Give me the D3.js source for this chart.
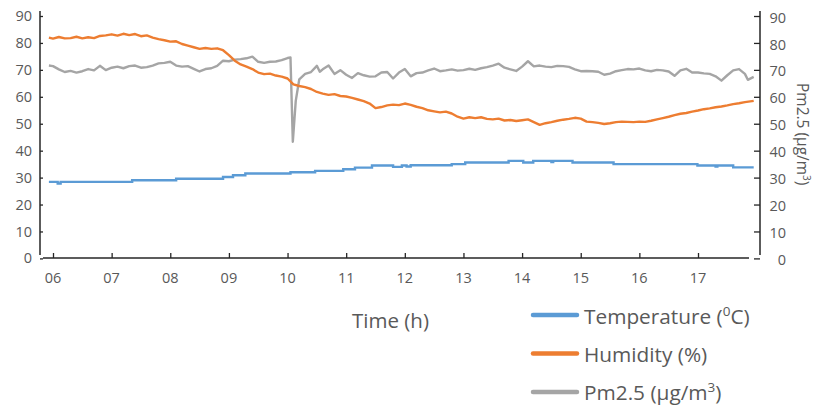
<!DOCTYPE html>
<html><head><meta charset="utf-8">
<script src="https://cdn.jsdelivr.net/npm/d3@7"></script>
<style>
html,body{margin:0;padding:0;background:#fff;}
svg{display:block;font-family:"Open Sans",sans-serif;}
</style></head>
<body>
<svg id="chart" width="814" height="407"></svg>
<script>
// ---- data ----
const hourTicks = [6,7,8,9,10,11,12,13,14,15,16,17];
const yTicks = [0,10,20,30,40,50,60,70,80,90];

const humidityTime = [5.93,6.0,6.1,6.2,6.3,6.4,6.5,6.6,6.7,6.8,6.9,7.0,7.1,7.2,7.3,7.4,7.5,7.6,7.7,7.8,7.9,8.0,8.1,8.2,8.3,8.4,8.5,8.6,8.7,8.8,8.9,9.0,9.1,9.2,9.3,9.4,9.5,9.6,9.7,9.8,9.9,10.0,10.1,10.2,10.3,10.4,10.5,10.6,10.7,10.8,10.9,11.0,11.1,11.2,11.3,11.4,11.5,11.6,11.7,11.8,11.9,12.0,12.1,12.2,12.3,12.4,12.5,12.6,12.7,12.8,12.9,13.0,13.1,13.2,13.3,13.4,13.5,13.6,13.7,13.8,13.9,14.0,14.1,14.2,14.3,14.4,14.5,14.6,14.7,14.8,14.9,15.0,15.1,15.2,15.3,15.4,15.5,15.6,15.7,15.8,15.9,16.0,16.1,16.2,16.3,16.4,16.5,16.6,16.7,16.8,16.9,17.0,17.1,17.2,17.3,17.4,17.5,17.6,17.7,17.8,17.95];
const humidity = [82.0,81.6,82.2,81.7,81.8,82.3,81.7,82.1,81.8,82.6,82.8,83.2,82.7,83.4,82.9,83.3,82.5,82.8,82.0,81.4,81.0,80.5,80.6,79.6,79.0,78.4,77.8,78.1,77.8,78.0,77.3,75.5,73.4,72.0,71.2,70.3,69.0,68.4,68.6,67.9,67.5,66.8,64.6,64.0,63.6,62.9,61.8,61.2,60.7,61.0,60.3,60.1,59.6,59.0,58.4,57.5,55.8,56.2,56.8,57.1,56.9,57.5,57.0,56.3,55.8,55.0,54.6,54.2,54.5,53.8,52.6,51.9,52.4,52.1,52.4,51.8,51.6,51.9,51.2,51.4,51.0,51.3,51.6,50.6,49.6,50.2,50.6,51.1,51.5,51.8,52.2,51.9,50.8,50.6,50.3,49.9,50.2,50.6,50.8,50.7,50.6,50.8,50.7,51.1,51.6,52.1,52.6,53.2,53.7,54.0,54.5,54.9,55.4,55.7,56.1,56.4,56.8,57.3,57.6,58.0,58.5];

const pmTime = [5.93,6.0,6.1,6.2,6.3,6.4,6.5,6.6,6.7,6.8,6.9,7.0,7.1,7.2,7.3,7.4,7.5,7.6,7.7,7.8,7.9,8.0,8.1,8.2,8.3,8.4,8.5,8.6,8.7,8.8,8.9,9.0,9.1,9.2,9.3,9.4,9.5,9.6,9.7,9.8,9.9,10.0,10.05,10.09,10.14,10.2,10.3,10.4,10.5,10.55,10.6,10.7,10.8,10.9,11.0,11.1,11.2,11.3,11.4,11.5,11.6,11.7,11.8,11.9,12.0,12.1,12.2,12.3,12.4,12.5,12.6,12.7,12.8,12.9,13.0,13.1,13.2,13.3,13.4,13.5,13.6,13.7,13.8,13.9,14.0,14.1,14.2,14.3,14.4,14.5,14.6,14.7,14.8,14.9,15.0,15.1,15.2,15.3,15.4,15.5,15.6,15.7,15.8,15.9,16.0,16.1,16.2,16.3,16.4,16.5,16.6,16.7,16.8,16.9,17.0,17.1,17.2,17.3,17.4,17.5,17.6,17.7,17.8,17.85,17.95];
const pm25 = [71.6,71.4,70.2,69.2,69.6,69.0,69.5,70.3,69.8,71.5,69.9,70.8,71.2,70.6,71.4,71.6,70.8,71.0,71.6,72.4,72.6,73.0,71.6,71.2,71.4,70.4,69.4,70.3,70.6,71.5,73.4,73.2,73.8,74.0,74.3,74.9,73.0,72.6,73.0,73.1,73.6,74.4,74.6,43.3,58.5,66.5,68.5,69.2,71.5,69.3,70.2,71.6,68.5,69.9,68.2,67.0,68.8,68.0,67.5,67.6,69.0,69.2,66.8,69.0,70.3,67.6,68.8,69.0,69.8,70.5,69.5,69.8,70.2,69.7,69.9,70.4,70.0,70.6,71.0,71.6,72.3,70.8,70.2,69.6,71.2,73.2,71.3,71.6,71.2,71.0,71.5,71.4,71.1,70.2,69.5,69.6,69.5,69.3,68.2,68.6,69.5,69.9,70.3,70.2,70.5,69.8,69.5,70.0,69.8,69.4,67.8,69.8,70.4,69.0,69.0,68.7,68.5,67.6,66.0,68.0,69.8,70.3,68.5,66.3,67.4];

const tempTime = [5.93,6.08,6.13,7.35,8.1,8.9,9.07,9.28,10.05,10.47,10.95,11.15,11.44,11.8,11.95,12.03,12.1,12.8,13.03,13.77,14.02,14.19,14.5,14.53,14.86,15.56,16.99,17.3,17.33,17.6,17.95];
const temperature = [28.4,27.8,28.4,29.0,29.6,30.2,30.9,31.5,32.0,32.5,33.1,33.7,34.5,34.0,34.5,34.1,34.6,35.0,35.6,36.2,35.6,36.2,35.8,36.2,35.6,35.0,34.5,34.1,34.5,33.8,33.8];

const seriesNames = ["Temperature", "Humidity (%)", "Pm2.5 (\u00b5g/m"];
const colors = ["#5B9BD5", "#ED7D31", "#A5A5A5"];

// ---- scales ----
const svg = d3.select("#chart");
const x = d3.scaleLinear().domain([6, 17]).range([53, 698]);
const y = d3.scaleLinear().domain([0, 90]).range([258.4, 16]);

const axisColor = "#262626";
const labelColor = "#595959";

// left axis
const gL = svg.append("g").attr("transform", "translate(40,0)");
gL.call(d3.axisRight(y).tickValues(yTicks).tickSize(3).tickFormat(""));
gL.select(".domain").remove();
gL.selectAll(".tick line").attr("stroke", axisColor).attr("stroke-width", 1.3);
svg.append("line").attr("x1", 40).attr("x2", 40).attr("y1", 11).attr("y2", 255)
  .attr("stroke", axisColor).attr("stroke-width", 1.5);
svg.append("g").selectAll("text").data(yTicks).join("text")
  .attr("x", 32).attr("y", d => y(d)).attr("dy", "0.35em")
  .attr("text-anchor", "end").attr("font-size", 14.5).attr("fill", labelColor)
  .text(d => d);

// right axis
const gR = svg.append("g").attr("transform", "translate(760,0)");
gR.call(d3.axisLeft(y).tickValues(yTicks).tickSize(6).tickFormat(""));
gR.select(".domain").remove();
gR.selectAll(".tick line").attr("stroke", axisColor).attr("stroke-width", 1.3);
svg.append("line").attr("x1", 760).attr("x2", 760).attr("y1", 11).attr("y2", 255)
  .attr("stroke", axisColor).attr("stroke-width", 1.5);
svg.append("g").selectAll("text").data(yTicks).join("text")
  .attr("x", 786).attr("y", d => y(d) + 1.5).attr("dy", "0.35em")
  .attr("text-anchor", "end").attr("font-size", 14.5).attr("fill", labelColor)
  .text(d => d);

// x axis
const gX = svg.append("g").attr("transform", "translate(0,258)");
gX.call(d3.axisTop(x).tickValues(hourTicks).tickSize(5).tickFormat(""));
gX.select(".domain").remove();
gX.selectAll(".tick line").attr("stroke", axisColor).attr("stroke-width", 1.3);
svg.append("line").attr("x1", 43).attr("x2", 749).attr("y1", 258).attr("y2", 258)
  .attr("stroke", axisColor).attr("stroke-width", 1.5);
svg.append("g").selectAll("text").data(hourTicks).join("text")
  .attr("x", d => x(d)).attr("y", 283)
  .attr("text-anchor", "middle").attr("font-size", 14.5).attr("fill", labelColor)
  .text(d => d3.format("02d")(d));

// ---- lines ----
const lineGen = d3.line().x(d => x(d[0])).y(d => y(d[1]));
const tempGen = d3.line().x(d => x(d[0])).y(d => y(d[1])).curve(d3.curveStepAfter);

svg.append("path").datum(d3.zip(pmTime, pm25))
  .attr("d", lineGen).attr("fill", "none").attr("stroke", colors[2])
  .attr("stroke-width", 2.4).attr("stroke-linejoin", "round");
svg.append("path").datum(d3.zip(humidityTime, humidity))
  .attr("d", lineGen).attr("fill", "none").attr("stroke", colors[1])
  .attr("stroke-width", 2.4).attr("stroke-linejoin", "round");
svg.append("path").datum(d3.zip(tempTime, temperature))
  .attr("d", tempGen).attr("fill", "none").attr("stroke", colors[0])
  .attr("stroke-width", 2.4);

// ---- axis titles ----
svg.append("text").attr("x", 352).attr("y", 328).attr("font-size", 20.5)
  .attr("fill", labelColor).text("Time (h)");

const rt = svg.append("text").attr("transform", "translate(797,83) rotate(90)")
  .attr("font-size", 15.5).attr("fill", labelColor);
rt.append("tspan").text("Pm2.5 (\u00b5g/m");
rt.append("tspan").attr("font-size", 10).attr("dy", -6).text("3");
rt.append("tspan").attr("dy", 6).text(")");

// ---- legend ----
const legY = [315, 353.5, 392];
const leg = svg.append("g");
legY.forEach((ly, i) => {
  leg.append("line").attr("x1", 533).attr("x2", 577).attr("y1", ly).attr("y2", ly)
    .attr("stroke", colors[i]).attr("stroke-width", 4.5).attr("stroke-linecap", "round");
});
const t0 = leg.append("text").attr("x", 584).attr("y", 323.5).attr("font-size", 20.8).attr("fill", labelColor);
t0.append("tspan").text("Temperature (");
t0.append("tspan").attr("font-size", 13.5).attr("dy", -8).text("0");
t0.append("tspan").attr("dy", 8).text("C)");
leg.append("text").attr("x", 584).attr("y", 361.5).attr("font-size", 20.8).attr("fill", labelColor)
  .text(seriesNames[1]);
const t2 = leg.append("text").attr("x", 584).attr("y", 399.5).attr("font-size", 20.8).attr("fill", labelColor);
t2.append("tspan").text(seriesNames[2]);
t2.append("tspan").attr("font-size", 13.5).attr("dy", -8).text("3");
t2.append("tspan").attr("dy", 8).text(")");
</script>
</body></html>
